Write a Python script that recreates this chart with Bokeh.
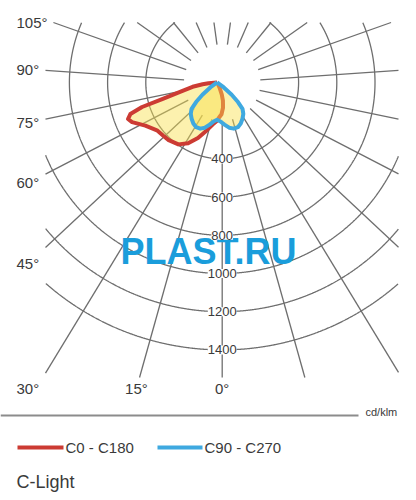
import numpy as np
from bokeh.plotting import figure
from bokeh.models import Label, Range1d
from bokeh.core.properties import value
from bokeh.embed import file_html
from bokeh.resources import INLINE

# ---------------- data ----------------
# angles in degrees from nadir, positive = left half of the diagram
c0_angles = [90, 85, 83, 80, 76.5, 73.2, 71.9, 70, 67.7, 65, 59, 51.5, 45, 40, 32,
             25.5, 19, 12.7, 6, 0, -3, -8, -13.3, -18, -21.5, -25, -30, -35, -90]
c0_values = [0, 45, 76, 130, 186, 300, 413, 483, 504, 491, 438, 402, 396, 394, 382,
             352, 307, 260, 221, 200, 185, 168, 136, 100, 67, 35, 8, 0, 0]

c90_angles = [-90, -62, -58, -54, -50, -47, -44, -40, -35, -30, -25, -20, -15, -10, -5,
              0, 5, 10, 15, 20, 25, 30, 35, 40, 44, 47, 50, 54, 58, 62, 90]
c90_values = [0, 0, 8, 42, 100, 150, 192, 214, 232, 248, 258, 257, 245, 224, 205,
              195, 205, 224, 245, 257, 258, 248, 232, 214, 192, 150, 100, 42, 8, 0, 0]

radial_ticks = [400, 600, 800, 1000, 1200, 1400]
angle_tick_labels = ["0°", "15°", "30°", "45°", "60°", "75°", "90°", "105°"]
series_names = ["C0 - C180", "C90 - C270"]
unit_label = "cd/klm"
caption = "C-Light"
watermark = "PLAST.RU"

# ---------------- layout ----------------
K = 0.191             # px per cd/klm
CX, CY = 221.7, 82.0  # pole position in picture pixels
N_SPOKES = 23
CURVE_X0 = -27        # curve origin shift (cd/klm units) as in the picture
W, H = 410, 496

def ix(px):
    return (px - CX) / K

def iy(py):
    return -(py - CY) / K

XL, XR, YT, YB = ix(45), ix(398), iy(22), iy(377)

RED = "#cc3b33"
BLUE = "#3fa9e0"
FILL = "#f9e04b"
GRID = "#6e6e6e"
TXT = "#3a3a3a"
FONT = "Liberation Sans"

p = figure(width=W, height=H, x_range=Range1d(ix(0), ix(W)),
           y_range=Range1d(iy(H), iy(0)), output_backend="svg",
           toolbar_location=None, min_border=0, x_axis_type=None, y_axis_type=None)
p.grid.visible = False
p.outline_line_color = None
p.background_fill_color = "white"
p.border_fill_color = "white"

# circles, clipped to the grid frame
for r in radial_ticks:
    t = np.linspace(0, 2 * np.pi, 2881)
    x = r * np.sin(t)
    y = -r * np.cos(t)
    inside = (x >= XL) & (x <= XR) & (y >= YB) & (y <= YT)
    p.line(np.where(inside, x, np.nan), np.where(inside, y, np.nan),
           line_color=GRID, line_width=1.3)

# spokes
xs, ys = [], []
for k in range(N_SPOKES):
    phi = np.deg2rad(k * 360.0 / N_SPOKES)
    dx, dy = -np.sin(phi), -np.cos(phi)
    ts = []
    if dx < -1e-9: ts.append(XL / dx)
    if dx > 1e-9: ts.append(XR / dx)
    if dy < -1e-9: ts.append(YB / dy)
    if dy > 1e-9: ts.append(YT / dy)
    tmax = min(ts)
    xs.append([200 * dx, tmax * dx])
    ys.append([200 * dy, tmax * dy])
p.multi_line(xs, ys, line_color=GRID, line_width=1.3)

# photometric curves
def to_xy(angles, values):
    a = np.deg2rad(np.array(angles, dtype=float))
    v = np.array(values, dtype=float)
    return CURVE_X0 - v * np.sin(a), -v * np.cos(a)

rx, ry = to_xy(c0_angles, c0_values)
bx, by = to_xy(c90_angles, c90_values)
p.patch(rx, ry, fill_color=FILL, fill_alpha=0.45, line_color=None)
p.line(np.append(rx, rx[0]), np.append(ry, ry[0]), line_color=RED, line_width=4,
       line_join="round")
p.patch(bx, by, fill_color=FILL, fill_alpha=0.45, line_color=None)
p.line(np.append(bx, bx[0]), np.append(by, by[0]), line_color=BLUE, line_width=4,
       line_join="round")

# radial value labels on the 0° spoke
for r in radial_ticks:
    p.add_layout(Label(x=0, y=-r, text=str(r), text_align="center", text_baseline="middle",
                       text_font=FONT, text_font_size="13px", text_color=TXT,
                       background_fill_color="white"))

# angle labels
bottom_row = iy(388)
for k, lab in enumerate(angle_tick_labels):
    phi = np.deg2rad(k * 360.0 / N_SPOKES)
    if k <= 1:
        x = bottom_row * np.tan(phi)
        p.text([x], [bottom_row], text=[lab], text_align="center", text_baseline="middle",
               text_font=value(FONT), text_font_size="15px", text_color=TXT)
    else:
        xe = ix(28)
        y = xe / np.tan(phi)
        y = min(max(y, bottom_row), iy(22))
        p.text([ix(16)], [y], text=[lab], text_align="left", text_baseline="middle",
               text_font=value(FONT), text_font_size="15px", text_color=TXT)

# bottom axis line and unit
p.line([ix(0), ix(358)], [iy(415), iy(415)], line_color="#8c8c8c", line_width=2)
p.text([ix(365)], [iy(411)], text=[unit_label], text_align="left", text_baseline="middle",
       text_font=value(FONT), text_font_size="11px", text_color=TXT)

# legend
for (x0, x1, col, name) in [(17, 63, RED, series_names[0]), (157, 202, BLUE, series_names[1])]:
    p.line([ix(x0), ix(x1)], [iy(447), iy(447)], line_color=col, line_width=4)
    p.text([ix(x1 + 2)], [iy(447)], text=[name], text_align="left", text_baseline="middle",
           text_font=value(FONT), text_font_size="15px", text_color=TXT)

p.text([ix(16)], [iy(481)], text=[caption], text_align="left", text_baseline="middle",
       text_font=value(FONT), text_font_size="18px", text_color=TXT)

# watermark
p.text([ix(208)], [iy(251)], text=[watermark], text_align="center", text_baseline="middle",
       text_font=value(FONT), text_font_size="36px", text_font_style="bold",
       text_color="#1a9ddb")

open("out.html", "w").write(file_html(p, INLINE))
